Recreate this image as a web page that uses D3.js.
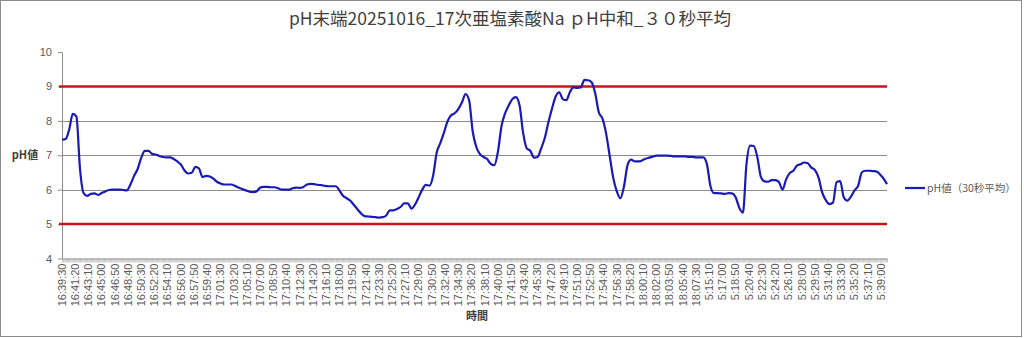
<!DOCTYPE html>
<html>
<head>
<meta charset="utf-8">
<script src="https://cdn.jsdelivr.net/npm/d3@7"></script>
<style>
  body { margin: 0; background: #fff; }
  svg { display: block; }
</style>
</head>
<body>
<svg width="1024" height="338"></svg>
<script>
// タイトル・軸ラベル
const chartTitle = "pH末端20251016_17次亜塩素酸Na ｐH中和_３０秒平均";
const yTitle = "pH値";
const xTitle = "時間";
const legendLabel = "pH値（30秒平均）";

// 横軸: 10秒ごとのカテゴリ数と、11カテゴリごとの目盛ラベル
const categoryCount = 688;
const labelEvery = 11;
const tickLabels = [
  "16:39:30", "16:41:20", "16:43:10", "16:45:00", "16:46:50", "16:48:40", "16:50:30", "16:52:20",
  "16:54:10", "16:56:00", "16:57:50", "16:59:40", "17:01:30", "17:03:20", "17:05:10", "17:07:00",
  "17:08:50", "17:10:40", "17:12:30", "17:14:20", "17:16:10", "17:18:00", "17:19:50", "17:21:40",
  "17:23:30", "17:25:20", "17:27:10", "17:29:00", "17:30:50", "17:32:40", "17:34:30", "17:36:20",
  "17:38:10", "17:40:00", "17:41:50", "17:43:40", "17:45:30", "17:47:20", "17:49:10", "17:51:00",
  "17:52:50", "17:54:40", "17:56:30", "17:58:20", "18:00:10", "18:02:00", "18:03:50", "18:05:40",
  "18:07:30", "5:15:10", "5:17:00", "5:18:50", "5:20:40", "5:22:30", "5:24:20", "5:26:10",
  "5:28:00", "5:29:50", "5:31:40", "5:33:30", "5:35:20", "5:37:10", "5:39:00"
];

// pH値（30秒平均）: 3カテゴリ（30秒）ごとの読み取り値
const sampleEvery = 3;
const phValues = [
  7.45, 7.47, 7.75, 8.2, 8.12, 6.6, 5.9, 5.82, 5.88, 5.89,
  5.85, 5.9, 5.95, 5.99, 6.0, 6.0, 6.0, 5.99, 5.98, 6.15,
  6.4, 6.6, 6.93, 7.13, 7.13, 7.04, 7.02, 6.98, 6.95, 6.94,
  6.94, 6.89, 6.82, 6.73, 6.56, 6.47, 6.49, 6.66, 6.62, 6.37,
  6.4, 6.38, 6.32, 6.23, 6.18, 6.15, 6.15, 6.15, 6.11, 6.06,
  6.02, 5.98, 5.94, 5.93, 5.95, 6.06, 6.08, 6.08, 6.07, 6.07,
  6.04, 6.0, 6.0, 6.0, 6.04, 6.06, 6.05, 6.08, 6.15, 6.17,
  6.16, 6.14, 6.13, 6.11, 6.1, 6.1, 6.1, 5.98, 5.82, 5.75,
  5.68, 5.56, 5.43, 5.31, 5.23, 5.22, 5.21, 5.2, 5.19, 5.2,
  5.25, 5.4, 5.4, 5.44, 5.5, 5.6, 5.6, 5.45, 5.57, 5.78,
  6.0, 6.14, 6.12, 6.4, 7.07, 7.35, 7.65, 7.98, 8.16, 8.22,
  8.34, 8.53, 8.78, 8.6, 7.69, 7.24, 7.03, 6.95, 6.89, 6.75,
  6.71, 7.1, 7.85, 8.22, 8.45, 8.63, 8.69, 8.45, 7.65, 7.2,
  7.13, 6.93, 6.95, 7.2, 7.5, 7.95, 8.35, 8.7, 8.83, 8.63,
  8.6, 8.84, 8.97, 8.96, 8.97, 9.19, 9.18, 9.12, 8.8, 8.25,
  8.07, 7.65, 7.0, 6.35, 5.95, 5.75, 6.1, 6.72, 6.87, 6.82,
  6.82, 6.85, 6.9, 6.93, 6.96, 6.99, 6.99, 6.99, 6.99, 6.98,
  6.97, 6.97, 6.97, 6.97, 6.95, 6.95, 6.94, 6.94, 6.94, 6.75,
  6.1, 5.9, 5.9, 5.89, 5.88, 5.9, 5.89, 5.78, 5.47, 5.33,
  6.75, 7.28, 7.27, 6.95, 6.37, 6.24, 6.23, 6.28, 6.28, 6.22,
  6.0, 6.3, 6.48, 6.55, 6.7, 6.74, 6.79, 6.77, 6.64, 6.57,
  6.35, 5.92, 5.7, 5.58, 5.62, 6.22, 6.25, 5.78, 5.68, 5.8,
  5.98, 6.12, 6.5, 6.55, 6.55, 6.54, 6.53, 6.45, 6.33, 6.16
];

// 管理線（上限・下限）と縦軸目盛
const limitLines = [9, 5];
const yTicks = [4, 5, 6, 7, 8, 9, 10];
const gridValues = [5, 6, 7, 8, 9];

const svg = d3.select("svg");
const W = +svg.attr("width");
const H = +svg.attr("height");

const plot = { left: 62, right: 887, top: 52, bottom: 258.5 };
const jpFont = "'Noto Sans CJK JP', sans-serif";
const numFont = "'Liberation Sans', Arial, sans-serif";
const textGray = "#595959";

// 外枠
svg.append("rect")
  .attr("x", 0.5).attr("y", 0.5)
  .attr("width", W - 3).attr("height", H - 2)
  .attr("fill", "#fff")
  .attr("stroke", "#8c8c8c");

const x = d3.scaleLinear()
  .domain([0, categoryCount - 1])
  .range([plot.left, plot.right]);

const y = d3.scaleLinear()
  .domain([4, 10])
  .range([plot.bottom, plot.top]);

// 目盛線
svg.append("g")
  .selectAll("line")
  .data(gridValues)
  .join("line")
  .attr("x1", plot.left).attr("x2", plot.right)
  .attr("y1", d => Math.round(y(d)) + 0.5)
  .attr("y2", d => Math.round(y(d)) + 0.5)
  .attr("stroke", "#8c8c8c")
  .attr("stroke-width", 1);

// 縦軸
const yAxis = svg.append("g")
  .attr("transform", `translate(${plot.left},0)`)
  .call(d3.axisLeft(y)
    .tickValues(yTicks)
    .tickFormat(d3.format("d"))
    .tickSize(4)
    .tickSizeOuter(0)
    .tickPadding(6));
yAxis.select(".domain").attr("stroke", "#8c8c8c");
yAxis.selectAll(".tick line").attr("stroke", "#8c8c8c");
yAxis.selectAll("text")
  .attr("font-family", numFont)
  .attr("font-size", 11)
  .attr("fill", textGray);

// 横軸（全カテゴリの小目盛）
const xAxis = svg.append("g")
  .attr("transform", `translate(0,${plot.bottom})`)
  .call(d3.axisBottom(x)
    .tickValues(d3.range(categoryCount))
    .tickSize(4)
    .tickSizeOuter(0)
    .tickFormat(""));
xAxis.select(".domain").attr("stroke", "#8c8c8c");
xAxis.selectAll(".tick line").attr("stroke", "#a6a6a6").attr("stroke-width", 0.6);

// 横軸ラベル（回転）
svg.append("g")
  .selectAll("text")
  .data(tickLabels)
  .join("text")
  .attr("transform", (d, i) => `translate(${x(i * labelEvery) + 3.8},${plot.bottom + 5}) rotate(-90)`)
  .attr("text-anchor", "end")
  .attr("font-family", numFont)
  .attr("font-size", 11)
  .attr("fill", textGray)
  .text(d => d);

// 管理線（赤）
svg.append("g")
  .selectAll("line")
  .data(limitLines)
  .join("line")
  .attr("x1", x(0) - 3).attr("x2", x(categoryCount - 1))
  .attr("y1", d => y(d)).attr("y2", d => y(d))
  .attr("stroke", "#c8161d")
  .attr("stroke-width", 2.5);

// pH値の折れ線
const line = d3.line()
  .x((d, i) => x(i * sampleEvery))
  .y(d => y(d))
  .curve(d3.curveMonotoneX);

svg.append("path")
  .datum(phValues)
  .attr("d", line)
  .attr("fill", "none")
  .attr("stroke", "#1a1ab4")
  .attr("stroke-width", 2.2)
  .attr("stroke-linejoin", "round");

// タイトル
svg.append("text")
  .attr("x", 510).attr("y", 25)
  .attr("text-anchor", "middle")
  .attr("font-family", jpFont)
  .attr("font-size", 17.5)
  .attr("fill", "#404040")
  .text(chartTitle);

// 軸タイトル
svg.append("text")
  .attr("x", 25).attr("y", 159)
  .attr("text-anchor", "middle")
  .attr("font-family", jpFont)
  .attr("font-size", 11)
  .attr("font-weight", "bold")
  .attr("fill", "#404040")
  .text(yTitle);

svg.append("text")
  .attr("x", 477).attr("y", 320)
  .attr("text-anchor", "middle")
  .attr("font-family", jpFont)
  .attr("font-size", 11)
  .attr("font-weight", "bold")
  .attr("fill", "#404040")
  .text(xTitle);

// 凡例
const legend = svg.append("g").attr("transform", "translate(905,188)");
legend.append("line")
  .attr("x1", 0).attr("x2", 20)
  .attr("stroke", "#1a1ab4")
  .attr("stroke-width", 2.2);
legend.append("text")
  .attr("x", 22).attr("y", 4)
  .attr("font-family", jpFont)
  .attr("font-size", 10.5)
  .attr("fill", textGray)
  .text(legendLabel);
</script>
</body>
</html>
